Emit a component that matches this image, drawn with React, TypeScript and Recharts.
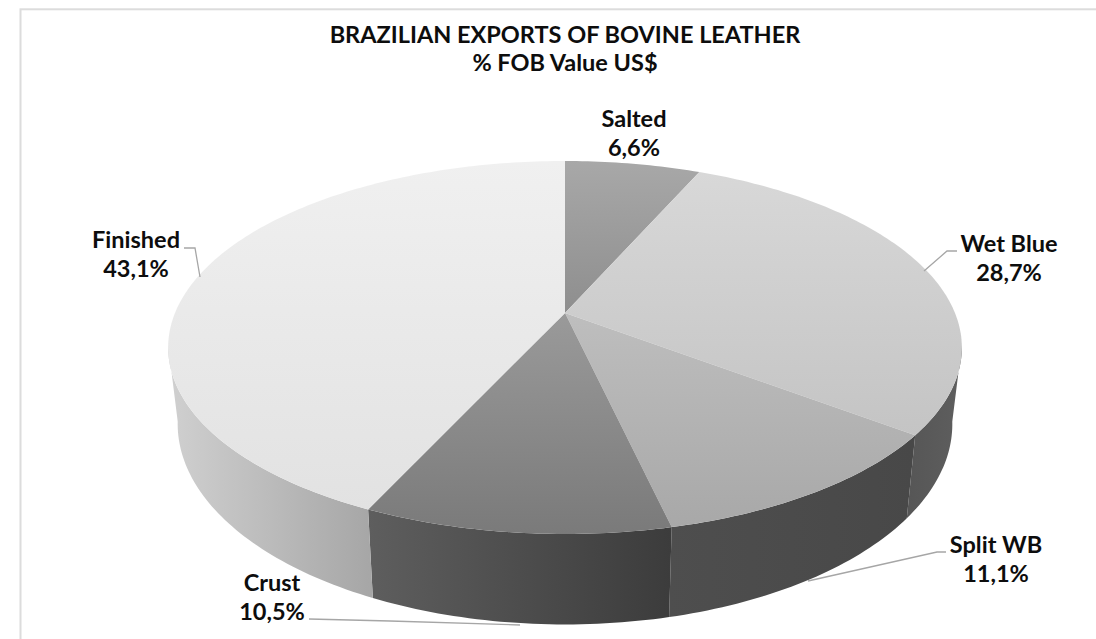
import { Pie, PieChart } from "recharts";

const categories = ["Salted", "Wet Blue", "Split WB", "Crust", "Finished"];
const shares = [6.6, 28.7, 11.1, 10.5, 43.1];
const pieData = categories.map((name, i) => ({ name, value: shares[i] }));

// top face shade, far edge -> near edge
const topShades = [
  ["#a8a8a8", "#8e8e8e"],
  ["#d8d8d8", "#c4c4c4"],
  ["#bebebe", "#a8a8a8"],
  ["#9a9a9a", "#7a7a7a"],
  ["#f0f0f0", "#e2e2e2"],
];
// wall shade, left -> right
const wallShades = [
  ["#666666", "#666666"],
  ["#565656", "#5e5e5e"],
  ["#4e4e4e", "#484848"],
  ["#5e5e5e", "#3c3c3c"],
  ["#d0d0d0", "#a6a6a6"],
];

// label text baseline + leader line for each slice
const labelLayout: Record<string, { x: number; y: number; line: number[][] }> = {
  Salted: { x: 634, y: 127, line: [] },
  "Wet Blue": { x: 1009, y: 252, line: [[924, 271], [947, 251], [957, 251]] },
  "Split WB": { x: 996, y: 553, line: [[808, 581], [937, 552], [946, 552]] },
  Crust: { x: 272, y: 591, line: [[520, 625], [390, 621], [309, 619]] },
  Finished: { x: 136, y: 248, line: [[200, 277], [195, 248], [184, 248]] },
};

const W = 1096;
const H = 639;
const CX = 565;
const CY = 313;
const RX = 390;
const PERSPECTIVE = -0.185;
const TILT = 122.2;
const FONT = "Lato, Carlito, sans-serif";
const TEXT_SIZE = 23.5;

// pie angle (clockwise from 12 o'clock) -> point on the tilted disc
const topPoint = (deg: number, r = 1) => {
  const t = (deg * Math.PI) / 180;
  const x = r * Math.sin(t);
  const y = -r * Math.cos(t);
  const w = 1 + PERSPECTIVE * y;
  return [CX + (RX * x) / w, (CY + TILT * y) / w];
};

const bottomPoint = (deg: number) => {
  const [x, y] = topPoint(deg);
  return [CX + 0.976 * (x - CX), y + 90 - (528 - y) * 0.075];
};

const arc = (a0: number, a1: number, fn: (d: number) => number[]) => {
  const pts = [];
  const n = Math.max(2, Math.ceil(Math.abs(a1 - a0)));
  for (let i = 0; i <= n; i++) pts.push(fn(a0 + ((a1 - a0) * i) / n));
  return pts;
};

const toPath = (pts: number[][]) => "M" + pts.map((p) => `${p[0].toFixed(2)},${p[1].toFixed(2)}`).join("L") + "Z";

const TopFace = (props: any) => {
  const a0 = 90 - props.startAngle;
  const a1 = 90 - props.endAngle;
  const pts = [[CX, CY], ...arc(a0, a1, topPoint)];
  return <path d={toPath(pts)} fill={`url(#top-${props.index})`} />;
};

const WallFace = (props: any) => {
  const a0 = Math.max(90 - props.startAngle, 100);
  const a1 = Math.min(90 - props.endAngle, 260);
  if (a1 <= a0) return <g />;
  const pts = [...arc(a0, a1, topPoint), ...arc(a1, a0, bottomPoint)];
  return <path d={toPath(pts)} fill={`url(#wall-${props.index})`} />;
};

const renderLabel = (props: any) => {
  const name = props.payload?.name ?? props.name;
  const layout = labelLayout[name];
  const pct = props.value.toFixed(1).replace(".", ",") + "%";
  return (
    <g>
      {layout.line.length > 0 && (
        <polyline points={layout.line.map((p) => p.join(",")).join(" ")} fill="none" stroke="#a6a6a6" strokeWidth={1.3} />
      )}
      <text x={layout.x} y={layout.y} textAnchor="middle" fontFamily={FONT} fontSize={TEXT_SIZE} fontWeight={700} fill="#0d0d0d">
        {name}
      </text>
      <text x={layout.x} y={layout.y + 28.5} textAnchor="middle" fontFamily={FONT} fontSize={TEXT_SIZE} fontWeight={700} fill="#0d0d0d">
        {pct}
      </text>
    </g>
  );
};

export default function App() {
  return (
    <div style={{ position: "absolute", left: 0, top: 0, width: W, height: H, background: "#fff" }}>
      <PieChart width={W} height={H} margin={{ top: 0, right: 0, bottom: 0, left: 0 }}>
        <defs>
          {topShades.map((s, i) => (
            <linearGradient key={i} id={`top-${i}`} x1={0} y1={0} x2={0} y2={1}>
              <stop offset="0%" stopColor={s[0]} />
              <stop offset="100%" stopColor={s[1]} />
            </linearGradient>
          ))}
          {wallShades.map((s, i) => (
            <linearGradient key={i} id={`wall-${i}`} x1={0} y1={0} x2={1} y2={0}>
              <stop offset="0%" stopColor={s[0]} />
              <stop offset="100%" stopColor={s[1]} />
            </linearGradient>
          ))}
        </defs>
        <rect x={20.5} y={9.3} width={1140} height={700} fill="#fff" stroke="#dcdcdc" strokeWidth={2} />
        <text x={565} y={43} textAnchor="middle" fontFamily={FONT} fontSize={TEXT_SIZE} fontWeight={700} fill="#0d0d0d">
          BRAZILIAN EXPORTS OF BOVINE LEATHER
        </text>
        <text x={565} y={71} textAnchor="middle" fontFamily={FONT} fontSize={TEXT_SIZE} fontWeight={700} fill="#0d0d0d">
          % FOB Value US$
        </text>
        <Pie
          data={pieData}
          dataKey="value"
          nameKey="name"
          cx={CX}
          cy={CY}
          innerRadius={0}
          outerRadius={RX}
          startAngle={90}
          endAngle={-270}
          isAnimationActive={false}
          shape={WallFace}
          stroke="none"
          label={false}
          labelLine={false}
        />
        <Pie
          data={pieData}
          dataKey="value"
          nameKey="name"
          cx={CX}
          cy={CY}
          innerRadius={0}
          outerRadius={RX}
          startAngle={90}
          endAngle={-270}
          isAnimationActive={false}
          shape={TopFace}
          stroke="none"
          label={renderLabel}
          labelLine={false}
        />
      </PieChart>
    </div>
  );
}
